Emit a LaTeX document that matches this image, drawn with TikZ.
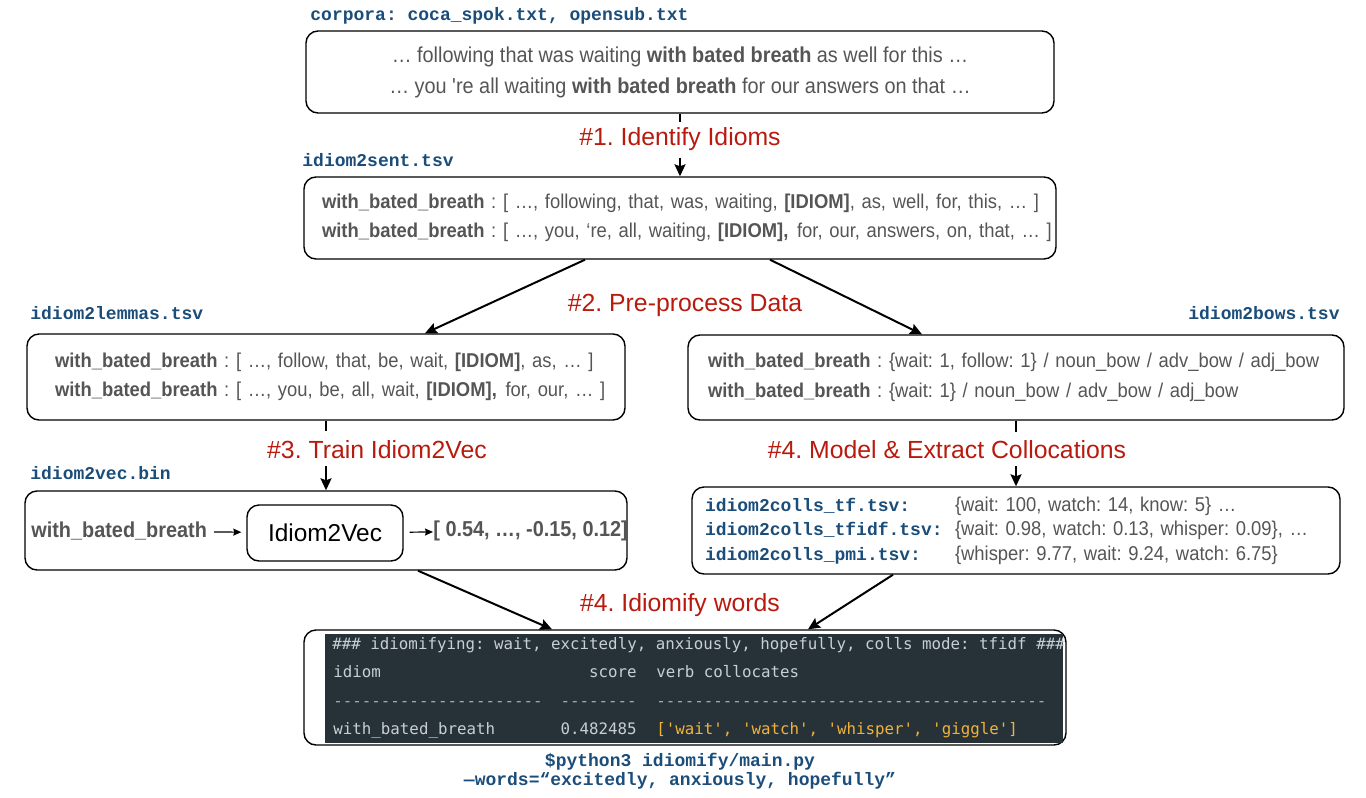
\documentclass[tikz,border=0pt]{standalone}
\usepackage{fontspec}
\setmainfont{Liberation Sans}
\setmonofont{DejaVu Sans Mono}
\newfontfamily\lblfont{Liberation Mono}
\newfontfamily\condfont{Liberation Sans}[FakeStretch=0.92]
\usepackage{xcolor}
\usetikzlibrary{positioning}
\usetikzlibrary{arrows.meta}
\frenchspacing

\definecolor{txtgray}{HTML}{555555}
\definecolor{stepred}{HTML}{B81A0E}
\definecolor{fileblue}{HTML}{1B4D7A}
\definecolor{termbg}{HTML}{263238}
\definecolor{termfg}{HTML}{C8CED6}
\definecolor{termdash}{HTML}{A3ABB4}
\definecolor{termorange}{HTML}{F2B23A}

\newcommand{\wbb}{\textbf{with\_bated\_breath}}
\newcommand{\collfile}[1]{\makebox[125pt][l]{\lblfont\bfseries\color{fileblue}\fontsize{9}{9}\selectfont #1}}

\begin{document}
\begin{tikzpicture}[x=0.5pt, y=-0.5pt,
  box/.style={draw, rounded corners=6pt, line width=0.7pt, text=txtgray, font=\condfont\fontsize{10}{14.5}\selectfont},
  filelbl/.style={text=fileblue, font=\lblfont\bfseries\fontsize{9}{9.5}\selectfont, inner sep=0pt},
  steplbl/.style={text=stepred, font=\fontsize{12.4}{14}\selectfont},
  arr/.style={line width=1pt, -{Stealth[length=6pt,width=5.5pt,inset=1pt]}},
  thinarr/.style={line width=0.6pt, -{Stealth[length=4pt,width=3.5pt,inset=0.5pt]}},
  stub/.style={line width=1pt},
  termtxt/.style={font=\ttfamily\fontsize{7.9}{9}\selectfont, text=termfg, inner sep=0pt, text height=6pt, text depth=1.5pt}]

\useasboundingbox (0,0) rectangle (1366,798);

% boxes
{
\node[box, minimum width=374pt, minimum height=41pt, align=center, font=\condfont\fontsize{10.8}{15.5}\selectfont] (corp) at (680,72)
{\raisebox{-1pt}{… following that was waiting \textbf{with bated breath} as well for this …}\\
\raisebox{-1pt}{… you 're all waiting \textbf{with bated breath} for our answers on that …}};

\node[box, text width=358pt, inner xsep=9pt, minimum height=41pt, align=left] (sent) at (680,218)
{\mbox{\wbb\ : [ …, following, that, was, waiting, \textbf{[IDIOM]}, as, well, for, this, … ]}\\
\mbox{\wbb\ : [ …, you, ‘re, all, waiting, \textbf{[IDIOM],}\kern1pt\ for, our, answers, on, that, … ]}};

\node[box, text width=271pt, inner xsep=14pt, minimum height=43pt, align=left] (lem) at (326,377)
{\mbox{\wbb\ : [ …, follow, that, be, wait, \textbf{[IDIOM]}, as, … ]}\\
\mbox{\wbb\ : [ …, you, be, all, wait, \textbf{[IDIOM],}\kern1pt\ for, our, … ]}};

\node[box, text width=308pt, inner xsep=10pt, minimum height=42.5pt, align=left, font=\condfont\fontsize{10}{15}\selectfont] (bows) at (1016,377.5)
{\mbox{\wbb\ : \{wait: 1, follow: 1\} / noun\_bow / adv\_bow / adj\_bow}\\
\mbox{\wbb\ : \{wait: 1\} / noun\_bow / adv\_bow / adj\_bow}};

\node[box, minimum width=301pt, minimum height=39.5pt] (vec) at (326,530.5) {};

\node[box, text width=311pt, inner xsep=6.5pt, minimum height=43.5pt, align=left, font=\condfont\fontsize{10}{12.25}\selectfont] (colls) at (1016,530.5)
{\mbox{\collfile{idiom2colls\_tf.tsv:}\{wait: 100, watch: 14, know: 5\} …}\\
\mbox{\collfile{idiom2colls\_tfidf.tsv:}\{wait: 0.98, watch: 0.13, whisper: 0.09\}, …}\\
\mbox{\collfile{idiom2colls\_pmi.tsv:}\{whisper: 9.77, wait: 9.24, watch: 6.75\}}};

\node[draw, rounded corners=6pt, line width=0.7pt, fill=white, minimum width=381pt, minimum height=57.5pt] (term) at (685,687.5) {};
}

% file names
{
\node[filelbl, anchor=west] (fcorp) at (310,16) {corpora: coca\_spok.txt, opensub.txt};
\node[filelbl, anchor=west] (fsent) at (302,160) {idiom2sent.tsv};
\node[filelbl, anchor=west] (flem) at (30,313) {idiom2lemmas.tsv};
\node[filelbl, anchor=east] (fbows) at (1340,313) {idiom2bows.tsv};
\node[filelbl, anchor=west] (fvec) at (30,473) {idiom2vec.bin};
\node[filelbl, align=center] (cmd) at (680,771) {\$python3 idiomify/main.py\\—words=“excitedly, anxiously, hopefully”};
}

% steps
{
\draw[stub] (corp.south) -- ++(0,8);
\node[steplbl] (t1) at (680,139) {\#1. Identify Idioms};
\draw[arr] (t1.south) -- (sent.north);

\draw[arr] (sent.south -| 585,0) -- (lem.north -| 425,0);
\draw[arr] (sent.south -| 770,0) -- (bows.north -| 922,0);
\node[steplbl] (t2) at (685,305) {\#2. Pre-process Data};

\draw[stub] (lem.south) -- ++(0,10);
\node[steplbl] (t3) at (377,450) {\#3. Train Idiom2Vec};
\draw[arr] (t3.south -| lem.south) -- (vec.north);

\draw[stub] (bows.south) -- ++(0,11);
\node[steplbl] (t4) at (947,450) {\#4. Model \& Extract Collocations};
\draw[arr] (t4.south -| bows.south) -- (colls.north);

\draw[arr] (vec.south -| 418,0) -- (term.north -| 552,0);
\draw[arr] (colls.south -| 893,0) -- (term.north -| 808,0);
\node[steplbl] (t5) at (680,605) {\#4. Idiomify words};
}

% idiom2vec
{
\node[text=txtgray, font=\condfont\bfseries\fontsize{10.8}{12}\selectfont, anchor=east] (vin) at (214,531) {with\_bated\_breath};
\node[draw, rounded corners=6pt, line width=0.7pt, minimum width=78pt, minimum height=28pt, font=\fontsize{12.2}{14}\selectfont] (w2v) at (325,533) {Idiom2Vec};
\node[text=txtgray, font=\condfont\bfseries\fontsize{10.8}{12}\selectfont, anchor=west, inner sep=0pt] (vout) at (433,531) {[ 0.54, …, -0.15, 0.12]};
\draw[thinarr, shorten >=2.5pt] (vin) -- (w2v);
\draw[thinarr, shorten <=3pt] (w2v) -- (vout);
}

% terminal
{
\node[fill=termbg, minimum width=369pt, minimum height=54.5pt, inner sep=0pt] (scr) at (694,688.5) {};
\node[termtxt, anchor=west] (hd) at (332,645) {\#\#\# idiomifying: wait, excitedly, anxiously, hopefully, colls mode: tfidf \#\#\#};
\node[termtxt, anchor=west] (c1) at (333,673) {idiom};
\node[termtxt, anchor=east] (c2) at (637,673) {score};
\node[termtxt, anchor=west] (c3) at (656,673) {verb collocates};
\node[termtxt, anchor=west, text=termdash] (d1) at (333,702) {----------------------};
\node[termtxt, anchor=east, text=termdash] (d2) at (637,702) {--------};
\node[termtxt, anchor=west, text=termdash] (d3) at (656,702) {-----------------------------------------};
\node[termtxt, anchor=west] (r1) at (333,730) {with\_bated\_breath};
\node[termtxt, anchor=east] (r2) at (637,730) {0.482485};
\node[termtxt, anchor=west, text=termorange] (r3) at (656,730) {['wait', 'watch', 'whisper', 'giggle']};
}

\end{tikzpicture}
\end{document}
